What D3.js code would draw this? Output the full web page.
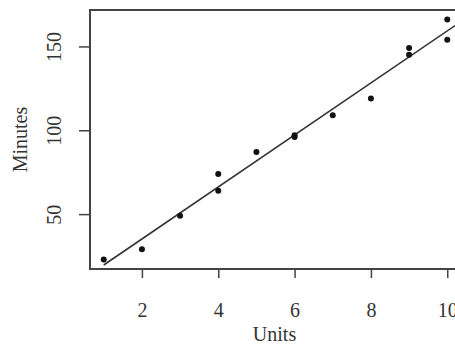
<!DOCTYPE html>
<html>
<head>
<meta charset="utf-8">
<script src="https://cdn.jsdelivr.net/npm/d3@7"></script>
<style>
  body { margin: 0; background: #fff; }
  text { font-family: "Liberation Serif", "DejaVu Serif", serif; fill: #333; }
</style>
</head>
<body>
<svg id="plot" width="455" height="345"></svg>
<script>
const units = [1, 2, 3, 4, 4, 5, 6, 6, 7, 8, 9, 9, 10, 10];
const minutes = [23, 29, 49, 64, 74, 87, 96, 97, 109, 119, 149, 145, 154, 166];
const xTicks = [2, 4, 6, 8, 10];
const yTicks = [50, 100, 150];

const svg = d3.select("#plot");
const margin = {top: 10, left: 90, bottom: 76};
const plotRight = 461;
const plotBottom = 345 - margin.bottom;

// least squares fit
const mx = d3.mean(units), my = d3.mean(minutes);
const slope = d3.sum(units, (u, i) => (u - mx) * (minutes[i] - my)) / d3.sum(units, u => (u - mx) ** 2);
const intercept = my - slope * mx;

// R style 4% padding
const xr = d3.extent(units), yr = d3.extent(minutes);
const xPad = (xr[1] - xr[0]) * 0.04, yPad = (yr[1] - yr[0]) * 0.04;

const x = d3.scaleLinear()
    .domain([xr[0] - xPad, xr[1] + xPad])
    .range([margin.left, plotRight]);

const y = d3.scaleLinear()
    .domain([yr[0] - yPad, yr[1] + yPad])
    .range([plotBottom, margin.top]);

svg.append("defs").append("clipPath")
    .attr("id", "clip")
    .append("rect")
    .attr("x", margin.left)
    .attr("y", margin.top)
    .attr("width", plotRight - margin.left)
    .attr("height", plotBottom - margin.top);

// x axis
const xAxis = svg.append("g")
    .attr("transform", `translate(0,${plotBottom})`)
    .call(d3.axisBottom(x).tickValues(xTicks).tickSize(9).tickPadding(25));
xAxis.select(".domain").remove();
xAxis.selectAll("line").attr("stroke", "#444").attr("stroke-width", 1.5);
xAxis.selectAll("text").style("font-size", "20px").attr("fill", "#333");

// y axis
const yAxis = svg.append("g")
    .attr("transform", `translate(${margin.left},0)`)
    .call(d3.axisLeft(y).tickValues(yTicks).tickSize(11));
yAxis.select(".domain").remove();
yAxis.selectAll("line").attr("stroke", "#444").attr("stroke-width", 1.5);
yAxis.selectAll("text")
    .style("font-size", "20px")
    .attr("fill", "#333")
    .attr("text-anchor", "middle")
    .attr("dy", null)
    .attr("x", 0)
    .attr("transform", "translate(-29,0) rotate(-90)");

// axis titles
svg.append("text")
    .attr("x", (margin.left + plotRight) / 2 - 1)
    .attr("y", 341)
    .attr("text-anchor", "middle")
    .style("font-size", "20px")
    .text("Units");

svg.append("text")
    .attr("transform", `translate(27,${(margin.top + plotBottom) / 2}) rotate(-90)`)
    .attr("text-anchor", "middle")
    .style("font-size", "20px")
    .text("Minutes");

// fitted line, from the first unit to the right edge
const x0 = xr[0], x1 = x.domain()[1];
svg.append("line")
    .attr("clip-path", "url(#clip)")
    .attr("x1", x(x0))
    .attr("y1", y(intercept + slope * x0))
    .attr("x2", x(x1))
    .attr("y2", y(intercept + slope * x1))
    .attr("stroke", "#333")
    .attr("stroke-width", 1.6);

// points
svg.append("g")
    .selectAll("circle")
    .data(units)
    .join("circle")
    .attr("cx", d => x(d))
    .attr("cy", (d, i) => y(minutes[i]))
    .attr("r", 3)
    .attr("fill", "#111");

// box
svg.append("rect")
    .attr("x", margin.left)
    .attr("y", margin.top)
    .attr("width", plotRight - margin.left)
    .attr("height", plotBottom - margin.top)
    .attr("fill", "none")
    .attr("stroke", "#444")
    .attr("stroke-width", 2);
</script>
</body>
</html>
